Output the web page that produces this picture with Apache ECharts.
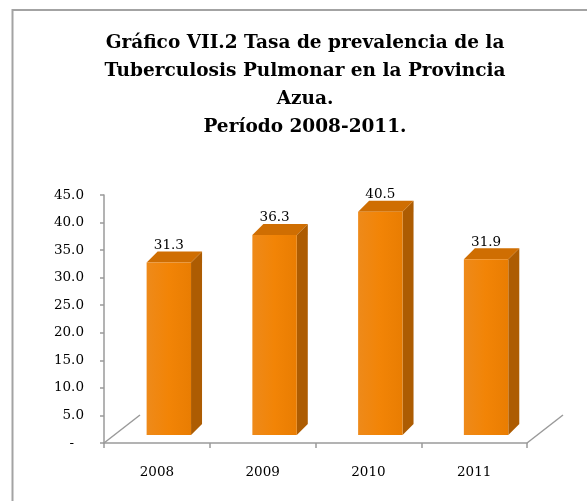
<!DOCTYPE html>
<html>
<head>
<meta charset="utf-8">
<script src="https://cdn.jsdelivr.net/npm/echarts@6/dist/echarts.min.js"></script>
<style>html,body{margin:0;padding:0;background:#fff;}#c{width:587px;height:501px;}</style>
</head>
<body>
<div id="c"></div>
<script>
const titleLines = ['Gráfico VII.2 Tasa de prevalencia de la', 'Tuberculosis Pulmonar en la Provincia', 'Azua.', 'Período 2008-2011.'];
const categories = ['2008', '2009', '2010', '2011'];
const values = [31.3, 36.3, 40.5, 31.9];
const yMin = 0, yMax = 45, yStep = 5;

const serif = '"DejaVu Serif", "Liberation Serif", serif';
const chart = echarts.init(document.getElementById('c'), null, {renderer: 'canvas'});

function renderItem(params, api) {
  const idx = api.value(0), val = api.value(1);
  const top = api.coord([idx, val]);
  const base = api.coord([idx, 0]);
  const band = api.size([1, 0])[0];
  const cx = base[0] + band * 0.113;
  const w = band * 0.42;
  const dx = 11, dy = 11, lift = 8;
  const x0 = cx - w / 2, x1 = cx + w / 2, yt = top[1] - lift, yb = base[1] - lift;
  const children = [
    {type: 'polygon', shape: {points: [[x1, yt], [x1 + dx, yt - dy], [x1 + dx, yb - dy], [x1, yb]]},
     style: {fill: '#ad5c02'}},
    {type: 'polygon', shape: {points: [[x0, yt], [x0 + dx, yt - dy], [x1 + dx, yt - dy], [x1, yt]]},
     style: {fill: '#cf6e02'}},
    {type: 'rect', shape: {x: x0, y: yt, width: w, height: yb - yt},
     style: {fill: new echarts.graphic.LinearGradient(0, 0, 1, 0, [
       {offset: 0, color: '#ee8a1a'}, {offset: 0.5, color: '#f28406'}, {offset: 1, color: '#e97d02'}])}},
    {type: 'text', style: {text: val.toFixed(1), x: cx, y: yt - dy + 1, align: 'center', verticalAlign: 'bottom',
      fill: '#000', font: '13.5px ' + serif}}
  ];
  const fx = base[0] - band / 2, lx = base[0] + band / 2;
  if (idx === 0) {
    children.push({type: 'line', shape: {x1: fx, y1: base[1], x2: fx + 36, y2: base[1] - 28},
      style: {stroke: '#9a9a9a', lineWidth: 1.5}});
  }
  if (idx === categories.length - 1) {
    children.push({type: 'line', shape: {x1: lx, y1: base[1], x2: lx + 36, y2: base[1] - 28},
      style: {stroke: '#9a9a9a', lineWidth: 1.5}});
  }
  return {type: 'group', children: children};
}

chart.setOption({
  animation: false,
  backgroundColor: '#fff',
  graphic: [{type: 'rect', shape: {x: 12.5, y: 10, width: 620, height: 600},
    style: {fill: 'none', stroke: '#a3a3a3', lineWidth: 2}, silent: true, z: -10}],
  title: {
    text: titleLines.join('\n'),
    left: 300, top: 24, textAlign: 'center',
    textStyle: {fontFamily: serif, fontWeight: 'bold', fontSize: 18.5, lineHeight: 28, color: '#000'}
  },
  grid: {left: 104, right: 60, top: 195, bottom: 58, containLabel: false},
  xAxis: {
    type: 'category', data: categories,
    axisLine: {show: true, lineStyle: {color: '#9a9a9a', width: 1.5}},
    axisTick: {show: true, length: 5, lineStyle: {color: '#9a9a9a', width: 1.5}},
    axisLabel: {margin: 22, color: '#000', fontFamily: serif, fontSize: 13.5}
  },
  yAxis: {
    type: 'value', min: yMin, max: yMax, interval: yStep,
    axisLine: {show: true, lineStyle: {color: '#9a9a9a', width: 1.5}},
    axisTick: {show: true, length: 4, lineStyle: {color: '#9a9a9a', width: 1.5}},
    splitLine: {show: false},
    axisLabel: {margin: 20, color: '#000', fontFamily: serif, fontSize: 13.5,
      formatter: v => v === 0 ? '{d|-}' : v.toFixed(1),
      rich: {d: {padding: [0, 10, 0, 0], fontFamily: serif, fontSize: 13.5, color: '#000'}}}
  },
  series: [{
    type: 'custom', renderItem: renderItem, clip: false,
    encode: {x: 0, y: 1},
    data: values.map((v, i) => [i, v])
  }]
});
</script>
</body>
</html>
